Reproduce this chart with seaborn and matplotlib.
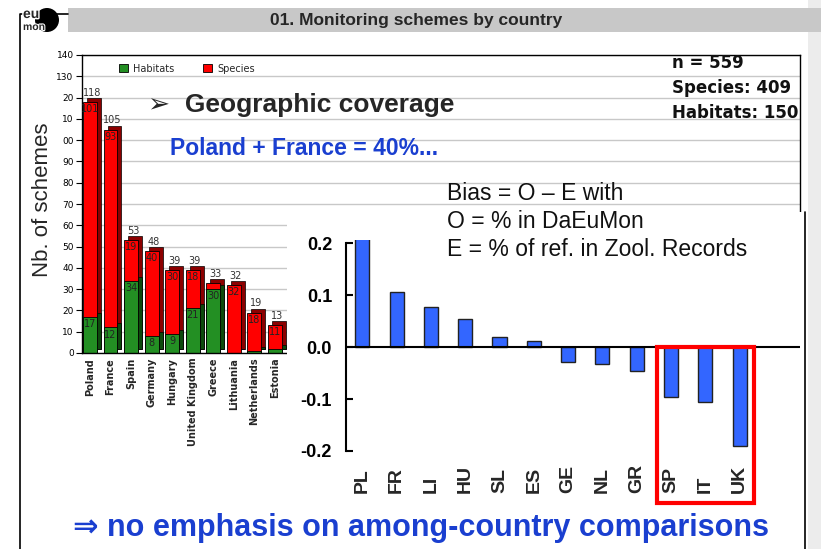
import pandas as pd
import numpy as np
import matplotlib
matplotlib.use('Agg')
from matplotlib import pyplot as plt
from matplotlib.patches import Rectangle, Ellipse
from matplotlib.lines import Line2D
from matplotlib.transforms import ScaledTranslation
import matplotlib.patheffects as pe
import seaborn as sns

sns.set_theme(style='white')
plt.rcParams['font.family'] = ['Liberation Sans', 'DejaVu Sans']

# --- left chart: schemes per country ---
countries = ['Poland', 'France', 'Spain', 'Germany', 'Hungary', 'United Kingdom',
             'Greece', 'Lithuania', 'Netherlands', 'Estonia']
habitats = [17, 12, 34, 8, 9, 21, 30, 0, 1, 2]
species = [101, 93, 19, 40, 30, 18, 3, 32, 18, 11]
totals = [h + s for h, s in zip(habitats, species)]
left_yticks = list(range(0, 141, 10))
left_yticklabels = ['0', '10', '20', '30', '40', '50', '60', '70', '80', '90',
                    '00', '10', '20', '130', '140']

# --- right chart: bias per country ---
codes = ['PL', 'FR', 'LI', 'HU', 'SL', 'ES', 'GE', 'NL', 'GR', 'SP', 'IT', 'UK']
bias = [0.21, 0.105, 0.077, 0.053, 0.02, 0.012, -0.029, -0.033, -0.046, -0.097, -0.106, -0.19]
right_yticks = [-0.2, -0.1, 0.0, 0.1, 0.2]
highlight = ['SP', 'IT', 'UK']

W, H = 821, 549
def fx(px):
    return px / W
def fy(py):
    return 1 - py / H

BLUE_TXT = '#1a3fd0'

fig = plt.figure(figsize=(8.21, 5.49), dpi=100)

# slide decorations
fig.add_artist(Rectangle((fx(808), 0), fx(821) - fx(808), 1, transform=fig.transFigure,
                         facecolor='#ececec', edgecolor='none', zorder=-1))
fig.add_artist(Rectangle((fx(68), fy(32)), 1 - fx(68), fy(8) - fy(32), transform=fig.transFigure,
                         facecolor='#c8c8c8', edgecolor='none', zorder=-1))
fig.add_artist(Line2D([fx(20), fx(20), fx(68)], [0, fy(14), fy(14)], transform=fig.transFigure,
                      color='black', lw=1.2))
fig.add_artist(Line2D([fx(805), fx(805)], [0, fy(212)], transform=fig.transFigure,
                      color='black', lw=1.2, zorder=4))
fig.add_artist(Ellipse((fx(47), fy(20)), 24 / W, 24 / H, transform=fig.transFigure,
                       facecolor='black', edgecolor='none'))
fig.text(fx(23), fy(14), 'eu', fontsize=10, fontweight='bold', va='center',
         path_effects=[pe.withStroke(linewidth=2, foreground='white')])
fig.text(fx(23), fy(27), 'mon', fontsize=7.5, fontweight='bold', va='center',
         path_effects=[pe.withStroke(linewidth=1.5, foreground='white')])
fig.text(fx(416), fy(20), '01. Monitoring schemes by country', fontsize=12.5,
         fontweight='bold', ha='center', va='center')

# left chart
ax1 = fig.add_axes([fx(82), fy(353), fx(800) - fx(82), fy(55) - fy(353)])
df = pd.DataFrame({'country': countries, 'habitats': habitats, 'species': species, 'total': totals})

# dark copies shifted up/right give the 3D look
sns.barplot(data=df, x='country', y='total', color='#8c0000', saturation=1, width=0.68,
            edgecolor='black', linewidth=0.5, ax=ax1)
sns.barplot(data=df, x='country', y='habitats', color='#0d4a0d', saturation=1, width=0.68,
            edgecolor='black', linewidth=0.5, ax=ax1)
depth = ScaledTranslation(0.04, 0.04, fig.dpi_scale_trans)
for p in ax1.patches:
    p.set_transform(ax1.transData + depth)
sns.barplot(data=df, x='country', y='total', color='#ff0000', saturation=1, width=0.68,
            edgecolor='black', linewidth=0.6, ax=ax1)
sns.barplot(data=df, x='country', y='habitats', color='#238f23', saturation=1, width=0.68,
            edgecolor='black', linewidth=0.6, ax=ax1)

for i, (h, s, t) in enumerate(zip(habitats, species, totals)):
    ax1.annotate(str(t), (i, t), xytext=(1.5, 3), textcoords='offset points', ha='center',
                 va='bottom', fontsize=7, color='#333333', family='DejaVu Sans')
    if s >= 5:
        ax1.annotate(str(s), (i, t), xytext=(0, -1.5), textcoords='offset points', ha='center',
                     va='top', fontsize=7, color='#222222', family='DejaVu Sans')
    if h >= 5:
        ax1.annotate(str(h), (i, h), xytext=(0, -1.5), textcoords='offset points', ha='center',
                     va='top', fontsize=7, color='#222222', family='DejaVu Sans')

ax1.legend(handles=[ax1.containers[3], ax1.containers[2]], labels=['Habitats', 'Species'],
           ncol=2, loc='upper left', bbox_to_anchor=(0.04, 1.0), frameon=False,
           prop={'family': 'DejaVu Sans', 'size': 7}, handlelength=0.9, handleheight=0.9,
           columnspacing=3, handletextpad=0.5)

ax1.set_xlim(-0.39, 34.6)
ax1.set_ylim(0, 140)
ax1.set_yticks(left_yticks)
ax1.set_yticklabels(left_yticklabels, fontsize=6.5, family='DejaVu Sans')
ax1.set_xticks(range(len(countries)))
ax1.set_xticklabels(countries, rotation=90, fontsize=7, fontweight='bold', family='DejaVu Sans')
ax1.tick_params(axis='y', left=True, direction='out', length=4, width=0.8, pad=2, colors='black')
ax1.tick_params(axis='x', length=0, pad=3.5)
ax1.set_xlabel('')
ax1.set_ylabel('')
ax1.yaxis.grid(True, color='#c8c8c8', lw=1)
ax1.set_axisbelow(True)
for sp in ax1.spines.values():
    sp.set_color('black')
    sp.set_linewidth(1)

fig.text(fx(43), fy(200), 'Nb. of schemes', rotation=90, fontsize=16, ha='center', va='center')

# white panel behind the bias chart
fig.add_artist(Rectangle((fx(287), fy(510)), fx(803) - fx(287), fy(212) - fy(510),
                         transform=fig.transFigure, facecolor='white', edgecolor='none', zorder=1))

# right chart
ax2 = fig.add_axes([fx(346), fy(451), fx(800) - fx(346), fy(240.4) - fy(451)])
ax2.set_zorder(2)
ax2.patch.set_alpha(0)
bdf = pd.DataFrame({'code': codes, 'bias': bias})
sns.barplot(data=bdf, x='code', y='bias', color='#3366ff', saturation=1, width=0.41,
            edgecolor='#222222', linewidth=1, ax=ax2)
ax2.set_xlim(-0.475, 12.76)
ax2.set_ylim(-0.2, 0.205)
ax2.axhline(0, color='black', lw=1.5)
for s in ['top', 'right', 'bottom']:
    ax2.spines[s].set_visible(False)
ax2.spines['left'].set_color('black')
ax2.spines['left'].set_linewidth(1.5)
ax2.spines['left'].set_bounds(-0.2, 0.2)
ax2.set_yticks(right_yticks)
ax2.set_yticklabels([f'{v:.1f}' for v in right_yticks], fontsize=13, fontweight='bold')
ax2.tick_params(axis='y', left=True, direction='in', length=5, width=1.5, pad=10, colors='black')
ax2.set_xticks(range(len(codes)))
ax2.set_xticklabels(codes, rotation=90, rotation_mode='anchor', ha='left', va='center',
                    fontsize=14, fontweight='bold')
ax2.tick_params(axis='x', length=0, pad=30)
ax2.set_xlabel('')
ax2.set_ylabel('')

i0, i1 = codes.index(highlight[0]), codes.index(highlight[-1])
y_lo, y_hi = ax2.get_ylim()
zero_frac = (0 - y_lo) / (y_hi - y_lo)
ax2.add_patch(Rectangle((i0 - 0.41, -0.247), (i1 - i0) + 0.83, zero_frac + 0.247,
                        transform=ax2.get_xaxis_transform(), fill=False, edgecolor='red',
                        lw=3, clip_on=False, zorder=5))

# slide texts
fig.text(fx(148), fy(105), '\u27a2  Geographic coverage', fontsize=19, fontweight='bold', va='center')
fig.text(fx(170), fy(149), 'Poland + France = 40%...', color=BLUE_TXT, fontsize=16.5,
         fontweight='bold', va='center')
for k, line in enumerate(['n = 559', 'Species: 409', 'Habitats: 150']):
    fig.text(fx(672), fy(63 + 25 * k), line, family='DejaVu Sans', fontweight='bold',
             fontsize=12, va='center', color='#111111')
for k, line in enumerate(['Bias = O \u2013 E with', 'O = % in DaEuMon', 'E = % of ref. in Zool. Records']):
    fig.text(fx(447), fy(194 + 28 * k), line, fontsize=16.5, va='center', color='#111111')
fig.text(fx(73), fy(528), '\u21d2 no emphasis on among-country comparisons', color=BLUE_TXT,
         fontsize=22, fontweight='bold', va='center')

plt.savefig('out.png', dpi=100)
